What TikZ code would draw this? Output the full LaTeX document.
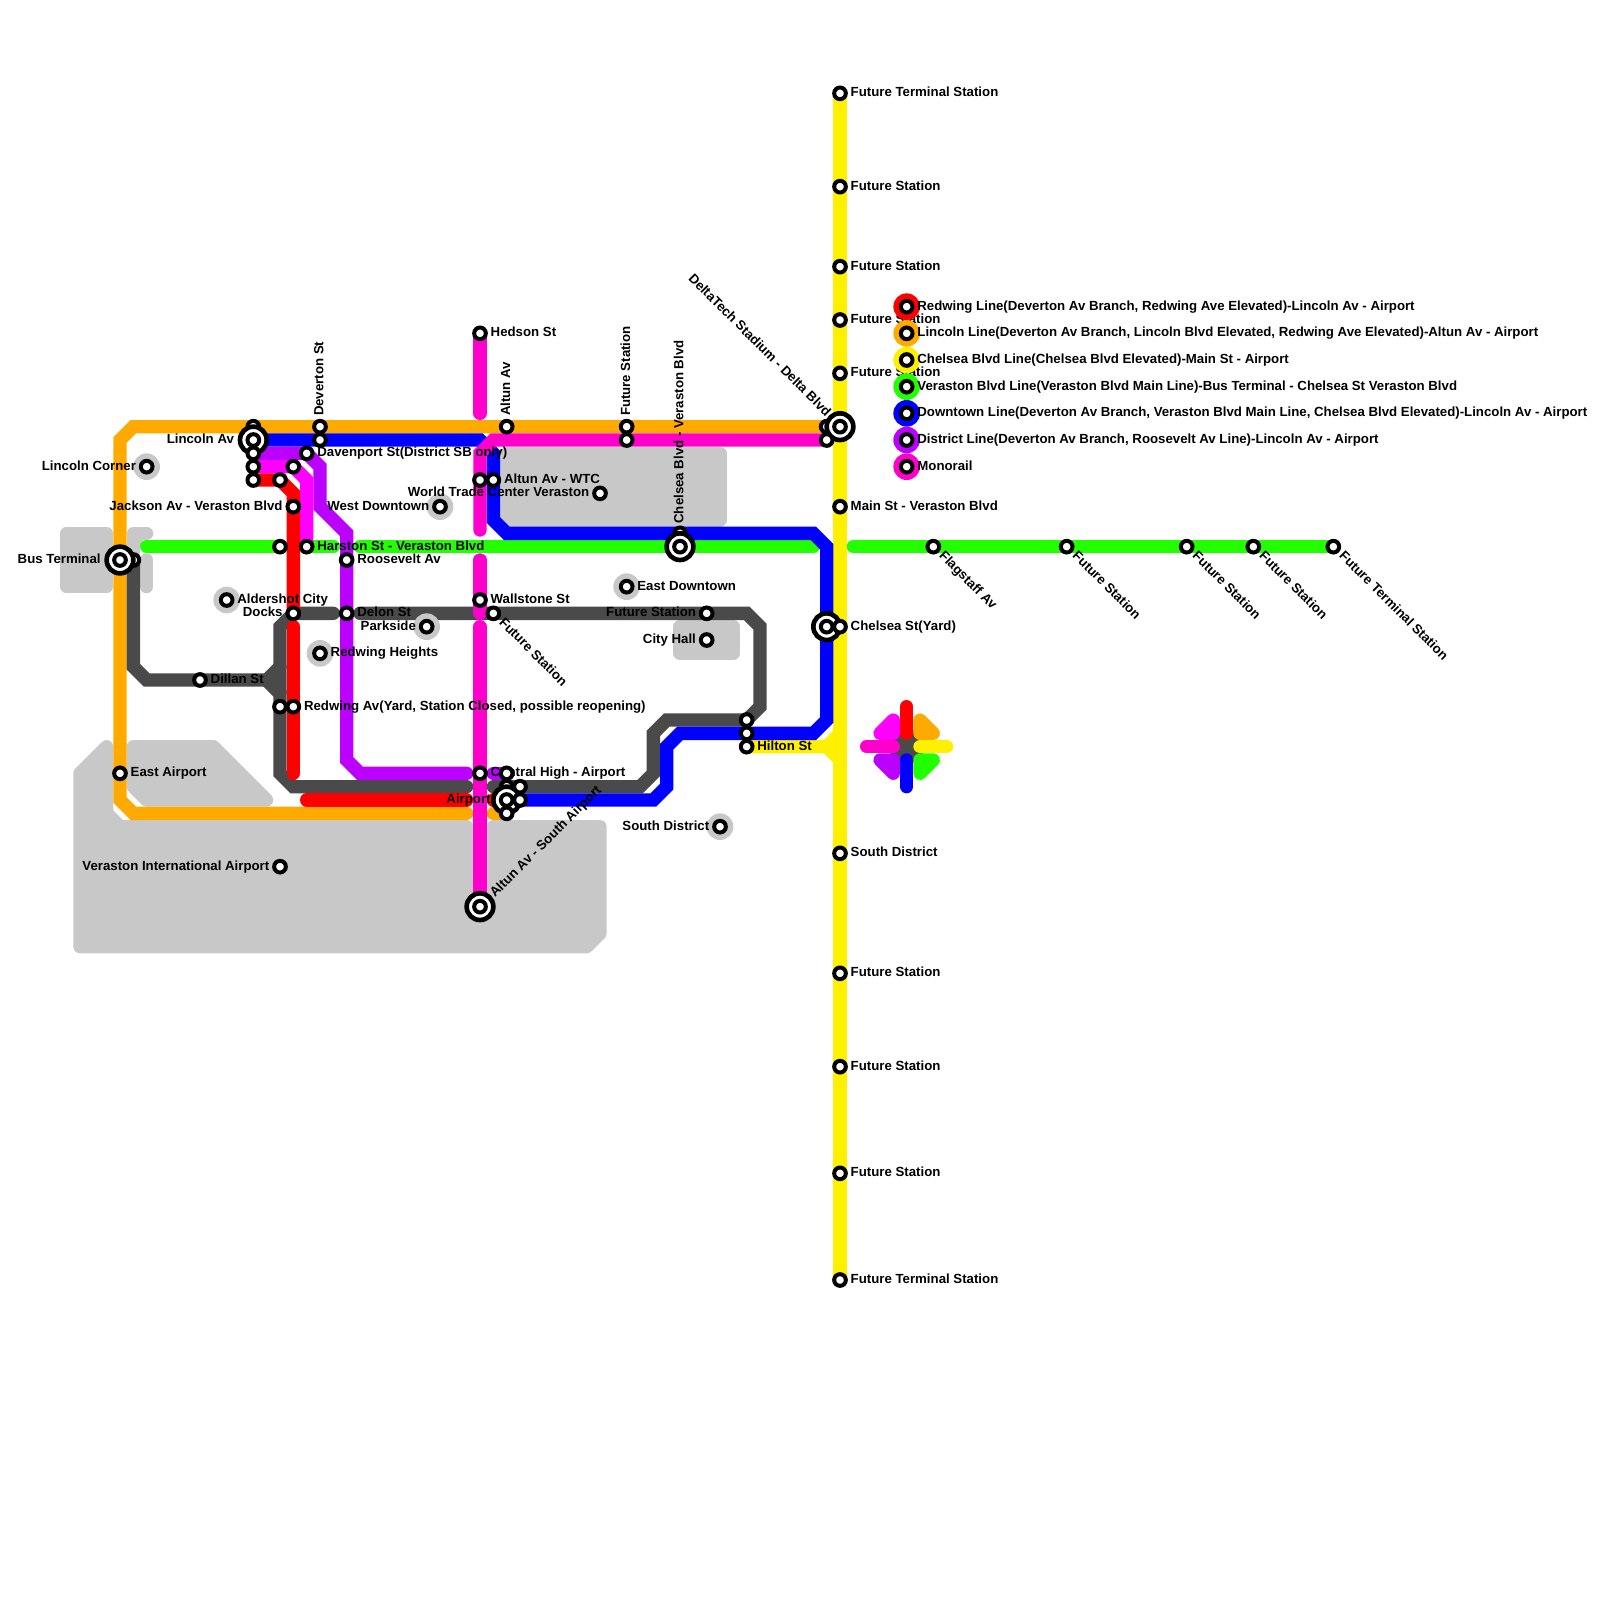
\documentclass[tikz,border=0pt]{standalone}
\usepackage{fontspec}
\setmainfont{Liberation Sans}
\usetikzlibrary{backgrounds}
\definecolor{metroRed}{RGB}{255, 0, 0}
\definecolor{metroOrange}{RGB}{255, 170, 0}
\definecolor{metroYellow}{RGB}{255, 240, 0}
\definecolor{metroGreen}{RGB}{34, 255, 0}
\definecolor{metroBlue}{RGB}{0, 0, 255}
\definecolor{metroPurple}{RGB}{187, 0, 255}
\definecolor{metroPink}{RGB}{255, 0, 204}
\definecolor{metroMagenta}{RGB}{255, 0, 255}
\definecolor{metroDark}{RGB}{74, 74, 74}
\definecolor{metroArea}{RGB}{200, 200, 200}

\begin{document}
\begin{tikzpicture}[
  x=0.4cm,y=-0.4cm,
  stn/.style={
    draw=black,
    fill=white,
    circle,
    inner sep=0pt,
    outer sep=0pt,
    minimum size=0.35cm,
    line width=0.12cm
  },
  hub/.style={stn,minimum size=0.8cm,line width=0.14cm},
  halo/.style={circle,inner sep=0pt,outer sep=0pt,minimum size=0.8cm},
  every label/.style={font=\bfseries\fontsize{11.3}{13}\selectfont,inner sep=0pt,text height=8.2pt,text depth=2.4pt},
  label distance=0.14cm,
  upLbl/.style={rotate=90,anchor=west,label distance=0cm,xshift=0.14cm},
  downLbl/.style={rotate=-45,anchor=west,label distance=0cm,xshift=0.14cm},
  riseLbl/.style={rotate=45,anchor=west,label distance=0cm,xshift=0.33cm},
  metro/.style={line width=0.4cm,line cap=round},
  area/.style={draw=metroArea,fill=metroArea,line width=0.4cm,line join=round,line cap=round}
]
  \useasboundingbox (0,0) rectangle (120,120);

  % chelsea line, north to south
  \node[stn,label={[name=terminalNLbl]right:Future Terminal Station}] (terminalN) at (63,7) {};
  \node[stn,label={[name=futureN1Lbl]right:Future Station}] (futureN1) at (63,14) {};
  \node[stn,label={[name=futureN2Lbl]right:Future Station}] (futureN2) at (63,20) {};
  \node[stn,label={[name=futureN3Lbl]right:Future Station}] (futureN3) at (63,24) {};
  \node[stn,label={[name=futureN4Lbl]right:Future Station}] (futureN4) at (63,28) {};
  \node[stn] (deltaOrange) at (62,32) {};
  \node[hub] (delta) at (63,32) {};
  \node[stn,label={[name=deltaLbl,rotate=-45,anchor=east,label distance=0cm,xshift=-0.33cm]135:DeltaTech Stadium - Delta Blvd}] (deltaIn) at (63,32) {};
  \node[stn] (deltaPink) at (62,33) {};
  \node[stn,label={[name=mainStLbl]right:Main St - Veraston Blvd}] (mainSt) at (63,38) {};
  \node[hub] (yard) at (62,47) {};
  \node[stn] (yardIn) at (62,47) {};
  \node[stn,label={[name=chelseaStLbl]right:Chelsea St(Yard)}] (chelseaSt) at (63,47) {};
  \node[stn,label={[name=southDistYLbl]right:South District}] (southDistY) at (63,64) {};
  \node[stn,label={[name=futureS1Lbl]right:Future Station}] (futureS1) at (63,73) {};
  \node[stn,label={[name=futureS2Lbl]right:Future Station}] (futureS2) at (63,80) {};
  \node[stn,label={[name=futureS3Lbl]right:Future Station}] (futureS3) at (63,88) {};
  \node[stn,label={[name=terminalSLbl]right:Future Terminal Station}] (terminalS) at (63,96) {};
  \node[stn,label={[name=hiltonLbl]right:Hilton St}] (hilton) at (56,56) {};
  \node[stn] (hiltonBlue) at (56,55) {};
  \node[stn] (hiltonDark) at (56,54) {};

  % green line, east side
  \node[stn,label={[name=flagstaffLbl,downLbl]-45:Flagstaff Av}] (flagstaff) at (70,41) {};
  \node[stn,label={[name=futureE1Lbl,downLbl]-45:Future Station}] (futureE1) at (80,41) {};
  \node[stn,label={[name=futureE2Lbl,downLbl]-45:Future Station}] (futureE2) at (89,41) {};
  \node[stn,label={[name=futureE3Lbl,downLbl]-45:Future Station}] (futureE3) at (94,41) {};
  \node[stn,label={[name=terminalELbl,downLbl]-45:Future Terminal Station}] (terminalE) at (100,41) {};

  % west side
  \node[stn] (lincolnOrange) at (19,32) {};
  \node[hub] (lincolnAv) at (19,33) {};
  \node[stn,label={[name=lincolnAvLbl,label distance=0.4cm]left:Lincoln Av}] (lincolnIn) at (19,33) {};
  \node[stn] (lincolnPurple) at (19,34) {};
  \node[stn] (lincolnMagenta) at (19,35) {};
  \node[stn] (lincolnRed) at (19,36) {};
  \node[stn] (redTurn) at (21,36) {};
  \node[stn] (magentaTurn) at (22,35) {};
  \node[stn,label={[name=davenportLbl]right:Davenport St(District SB only)}] (davenport) at (23,34) {};
  \node[stn,label={[name=devertonLbl,upLbl]above:Deverton St}] (deverton) at (24,32) {};
  \node[stn] (devertonBlue) at (24,33) {};
  \node[stn,label={[name=jacksonLbl]left:Jackson Av - Veraston Blvd}] (jackson) at (22,38) {};
  \node[stn] (greenWest) at (21,41) {};
  \node[stn,label={[name=harstonLbl]right:Harston St - Veraston Blvd}] (harston) at (23,41) {};
  \node[stn,label={[name=rooseveltLbl]right:Roosevelt Av}] (roosevelt) at (26,42) {};
  \node[stn,label={[name=docksLbl]left:Docks}] (docks) at (22,46) {};
  \node[stn,label={[name=delonLbl]right:Delon St}] (delon) at (26,46) {};
  \node[stn,label={[name=dillanLbl]right:Dillan St}] (dillan) at (15,51) {};
  \node[stn] (redwingDark) at (21,53) {};
  \node[stn,label={[name=redwingLbl]right:Redwing Av(Yard, Station Closed, possible reopening)}] (redwing) at (22,53) {};
  \node[stn,label={[name=eastAirportLbl]right:East Airport}] (eastAirport) at (9,58) {};
  \node[stn] (busDark) at (10,42) {};
  \node[hub] (busTerminal) at (9,42) {};
  \node[stn,label={[name=busLbl,label distance=0.4cm]left:Bus Terminal}] (busIn) at (9,42) {};
  \node[stn,label={[name=intlLbl]left:Veraston International Airport}] (intl) at (21,65) {};

  % stops off the lines
  \node[halo,fill=metroArea] (cornerHalo) at (11,35) {};
  \node[stn,label={[name=cornerLbl]left:Lincoln Corner}] (corner) at (11,35) {};
  \node[halo,fill=metroArea] (aldershotHalo) at (17,45) {};
  \node[stn,label={[name=aldershotLbl]right:Aldershot City}] (aldershot) at (17,45) {};
  \node[halo,fill=metroArea] (heightsHalo) at (24,49) {};
  \node[stn,label={[name=heightsLbl]right:Redwing Heights}] (heights) at (24,49) {};
  \node[halo,fill=metroArea] (westDownHalo) at (33,38) {};
  \node[stn,label={[name=westDownLbl]left:West Downtown}] (westDown) at (33,38) {};
  \node[halo,fill=metroArea] (parksideHalo) at (32,47) {};
  \node[stn,label={[name=parksideLbl]left:Parkside}] (parkside) at (32,47) {};
  \node[halo,fill=metroArea] (eastDownHalo) at (47,44) {};
  \node[stn,label={[name=eastDownLbl]right:East Downtown}] (eastDown) at (47,44) {};
  \node[halo,fill=metroArea] (southDistHalo) at (54,62) {};
  \node[stn,label={[name=southDistLbl]left:South District}] (southDist) at (54,62) {};

  % middle
  \node[stn,label={[name=hedsonLbl]right:Hedson St}] (hedson) at (36,25) {};
  \node[stn,label={[name=altunLbl,upLbl]above:Altun Av}] (altun) at (38,32) {};
  \node[stn,label={[name=future47Lbl,upLbl]above:Future Station}] (future47) at (47,32) {};
  \node[stn] (future47Pink) at (47,33) {};
  \node[stn] (wtcPink) at (36,36) {};
  \node[stn,label={[name=wtcLbl]right:Altun Av - WTC}] (wtc) at (37,36) {};
  \node[stn,label={[name=tradeLbl]left:World Trade Center Veraston}] (trade) at (45,37) {};
  \node[stn,label={[name=chelseaBlvdLbl,upLbl,xshift=-0.03cm]above:Chelsea Blvd - Veraston Blvd}] (chelseaBlue) at (51,40) {};
  \node[hub] (chelseaBlvd) at (51,41) {};
  \node[stn] (chelseaIn) at (51,41) {};
  \node[stn,label={[name=wallstoneLbl]right:Wallstone St}] (wallstone) at (36,45) {};
  \node[stn,label={[name=futureDiagLbl,downLbl]-45:Future Station}] (futureDiag) at (37,46) {};
  \node[stn,label={[name=future53Lbl]left:Future Station}] (future53) at (53,46) {};
  \node[stn,label={[name=cityHallLbl]left:City Hall}] (cityHall) at (53,48) {};
  \node[stn,label={[name=centralLbl]right:Central High - Airport}] (central) at (36,58) {};
  \node[hub] (altunSouth) at (36,68) {};
  \node[stn,label={[name=altunSouthLbl,riseLbl]35:Altun Av - South Airport}] (altunSouthIn) at (36,68) {};

  % airport cluster
  \node[stn] (airportDark) at (38,59) {};
  \node[hub] (airport) at (38,60) {};
  \node[stn,label={[name=airportLbl,label distance=0.3cm]left:Airport}] (airportIn) at (38,60) {};
  \node[stn] (airportPurple) at (38,58) {};
  \node[stn] (airportDark2) at (39,59) {};
  \node[stn] (airportBlue) at (39,60) {};
  \node[stn] (airportOrange) at (38,61) {};

  % key
  \node[halo,fill=metroRed] (keyRedHalo) at (68,23) {};
  \node[stn,label={[name=keyRedLbl]right:Redwing Line(Deverton Av Branch, Redwing Ave Elevated)-Lincoln Av - Airport}] (keyRed) at (68,23) {};
  \node[halo,fill=metroOrange] (keyOrangeHalo) at (68,25) {};
  \node[stn,label={[name=keyOrangeLbl]right:Lincoln Line(Deverton Av Branch, Lincoln Blvd Elevated, Redwing Ave Elevated)-Altun Av - Airport}] (keyOrange) at (68,25) {};
  \node[halo,fill=metroYellow] (keyYellowHalo) at (68,27) {};
  \node[stn,label={[name=keyYellowLbl]right:Chelsea Blvd Line(Chelsea Blvd Elevated)-Main St - Airport}] (keyYellow) at (68,27) {};
  \node[halo,fill=metroGreen] (keyGreenHalo) at (68,29) {};
  \node[stn,label={[name=keyGreenLbl]right:Veraston Blvd Line(Veraston Blvd Main Line)-Bus Terminal - Chelsea St Veraston Blvd}] (keyGreen) at (68,29) {};
  \node[halo,fill=metroBlue] (keyBlueHalo) at (68,31) {};
  \node[stn,label={[name=keyBlueLbl]right:Downtown Line(Deverton Av Branch, Veraston Blvd Main Line, Chelsea Blvd Elevated)-Lincoln Av - Airport}] (keyBlue) at (68,31) {};
  \node[halo,fill=metroPurple] (keyPurpleHalo) at (68,33) {};
  \node[stn,label={[name=keyPurpleLbl]right:District Line(Deverton Av Branch, Roosevelt Av Line)-Lincoln Av - Airport}] (keyPurple) at (68,33) {};
  \node[halo,fill=metroPink] (keyPinkHalo) at (68,35) {};
  \node[stn,label={[name=keyPinkLbl]right:Monorail}] (keyPink) at (68,35) {};

  % free line ends
  \coordinate (greenStart) at (11,41);
  \coordinate (green25) at (25,41);
  \coordinate (green27) at (27,41);
  \coordinate (green61) at (61,41);
  \coordinate (green64) at (64,41);
  \coordinate (orange35) at (35,61);
  \coordinate (orange37) at (37,61);
  \coordinate (dark25) at (25,46);
  \coordinate (dark27) at (27,46);
  \coordinate (dark35) at (35,59);
  \coordinate (dark37) at (37,59);
  \coordinate (purple35) at (35,58);
  \coordinate (purple37) at (37,58);
  \coordinate (red47) at (22,47);
  \coordinate (red58) at (22,58);
  \coordinate (red23) at (23,60);
  \coordinate (red35) at (35,60);
  \coordinate (red37) at (37,60);
  \coordinate (pink31) at (36,31);
  \coordinate (pink39) at (36,39.75);
  \coordinate (pink42) at (36,42);
  \coordinate (pink46) at (36,46);
  \coordinate (pink47) at (36,47);

  \begin{scope}[on background layer]
    % grey districts
    \draw[area] (5,40) rectangle (8,44);
    \draw[area] (11,40) -- (10,40) -- (10,42);
    \draw[area] (11,42) -- (11,44);
    \draw[area] (38,34) rectangle (54,39);
    \draw[area] (51,47) rectangle (55,49);
    \draw[area] (10,56) -- (16,56) -- (20,60) -- (11,60) -- (10,59) -- cycle;
    \draw[area] (6,58) -- (8,56) -- (8,61) -- (9,62) -- (35,62) -- (35,64) -- (37,64) -- (37,62) -- (45,62) -- (45,70) -- (44,71) -- (6,71) -- cycle;

    % lines
    \draw[metro,metroYellow] (terminalN.center) -- (terminalS.center);
    \draw[metro,metroYellow] (hilton.center) -- (62,56) -- (63,55);
    \draw[metro,metroYellow] (62,56) -- (63,57);
    \draw[metro,metroOrange] (delta.center) -- (10,32) -- (9,33) -- (9,60) -- (10,61) -- (orange35);
    \draw[metro,metroOrange] (orange37) -- (airportOrange.center);
    \draw[metro,metroGreen] (greenStart) -- (greenWest.center);
    \draw[metro,metroGreen] (harston.center) -- (green25);
    \draw[metro,metroGreen] (green27) -- (green61);
    \draw[metro,metroGreen] (green64) -- (terminalE.center);
    \draw[metro,metroDark] (busDark.center) -- (10,50) -- (11,51) -- (20,51) -- (21,52) -- (21,58) -- (22,59) -- (dark35);
    \draw[metro,metroDark,fill=metroDark,line join=round] (20,51) -- (21,50) -- (21,52) -- cycle;
    \draw[metro,metroDark] (21,50) -- (21,47) -- (docks.center) -- (dark25);
    \draw[metro,metroDark] (dark27) -- (56,46) -- (57,47) -- (57,53) -- (56,54) -- (50,54) -- (49,55) -- (49,58) -- (48,59) -- (dark37);
    \draw[metro,metroBlue] (lincolnAv.center) -- (36,33) -- (37,34) -- (37,39) -- (38,40) -- (61,40) -- (62,41) -- (62,54) -- (61,55) -- (51,55) -- (50,56) -- (50,59) -- (49,60) -- (airportBlue.center);
    \draw[metro,metroPink] (hedson.center) -- (pink31);
    \draw[metro,metroPink] (deltaPink.center) -- (37,33) -- (36,34) -- (pink39);
    \draw[metro,metroPink] (pink42) -- (pink46);
    \draw[metro,metroPink] (pink47) -- (altunSouth.center);
    \draw[metro,metroPurple] (lincolnPurple.center) -- (23,34) -- (24,35) -- (24,38) -- (26,40) -- (26,57) -- (27,58) -- (purple35);
    \draw[metro,metroPurple] (purple37) -- (airportPurple.center);
    \draw[metro,metroMagenta] (lincolnMagenta.center) -- (22,35) -- (23,36) -- (harston.center);
    \draw[metro,metroRed] (lincolnRed.center) -- (21,36) -- (22,37) -- (docks.center);
    \draw[metro,metroRed] (red47) -- (red58);
    \draw[metro,metroRed] (red23) -- (red35);
    \draw[metro,metroRed] (red37) -- (airport.center);

    % hub mark
    \draw[metro,metroDark,fill=metroDark,line join=round] (67,56) -- (68,55) -- (69,56) -- (68,57) -- cycle;
    \draw[metro,metroMagenta,fill=metroMagenta,line join=round] (67,54) -- (66,55) -- (67,55) -- cycle;
    \draw[metro,metroOrange,fill=metroOrange,line join=round] (69,54) -- (70,55) -- (69,55) -- cycle;
    \draw[metro,metroPurple,fill=metroPurple,line join=round] (66,57) -- (67,57) -- (67,58) -- cycle;
    \draw[metro,metroGreen,fill=metroGreen,line join=round] (69,57) -- (70,57) -- (69,58) -- cycle;
    \draw[metro,metroRed] (68,53) -- (68,55);
    \draw[metro,metroBlue] (68,57) -- (68,59);
    \draw[metro,metroPink] (65,56) -- (67,56);
    \draw[metro,metroYellow] (69,56) -- (71,56);
  \end{scope}
\end{tikzpicture}
\end{document}
